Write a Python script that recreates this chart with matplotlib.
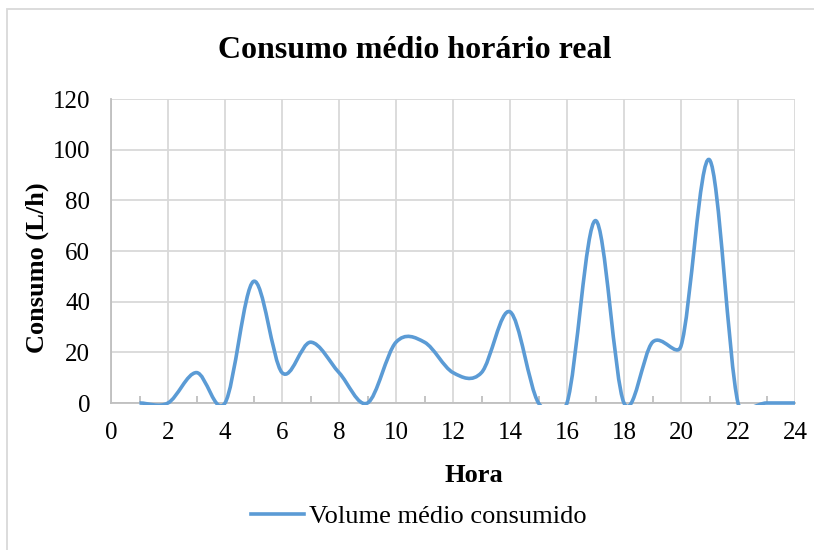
import numpy as np
import matplotlib
matplotlib.use('Agg')
import matplotlib.pyplot as plt
from matplotlib.path import Path
from matplotlib.patches import PathPatch, Rectangle
from matplotlib.lines import Line2D

hours = [1, 2, 3, 4, 5, 6, 7, 8, 9, 10, 11, 12, 13, 14, 15, 16, 17, 18, 19, 20, 21, 22, 23, 24]
consumo = [0, 0, 12, 0, 48, 12, 24, 12, 0, 24, 24, 12, 12, 36, 0, 0, 72, 0, 24, 22.5, 96, 0, 0, 0]

line_color = '#5B9BD5'
grid_color = '#D9D9D9'
axis_color = '#BFBFBF'

plt.rcParams['font.family'] = ['Liberation Serif', 'DejaVu Serif']


def arm(p_a, p_b, d_seg, same_x):  # control arm factor, excel style
    d = np.hypot(*(p_b - p_a))
    if d / 6 < d_seg / 2:
        return 1 / 3 if same_x else 1 / 6
    return 0.5 * d_seg / d


def smooth_path(ax, xs, ys):  # excel-like smoothed line, worked out in screen space
    tr = ax.transData
    pts = tr.transform(np.column_stack([xs, ys]).astype(float))
    n = len(pts)
    verts = [pts[0]]
    codes = [Path.MOVETO]
    for i in range(n - 1):
        p0 = pts[i - 1] if i > 0 else pts[i]
        p1, p2 = pts[i], pts[i + 1]
        p3 = pts[i + 2] if i + 2 < n else pts[i + 1]
        d12 = np.hypot(*(p2 - p1))
        f = arm(p0, p2, d12, p0[0] == p1[0])
        g = arm(p1, p3, d12, p2[0] == p3[0])
        c1 = p1 + f * (p2 - p0)
        c2 = p2 - g * (p3 - p1)
        verts += [c1, c2, p2]
        codes += [Path.CURVE4] * 3
    verts = tr.inverted().transform(np.array(verts))
    return Path(verts, codes)


W, H = 814, 550
fig = plt.figure(figsize=(W / 100, H / 100), dpi=100)
ax = fig.add_axes([111 / W, 1 - 403 / H, (795 - 111) / W, (403 - 99) / H])

ax.set_xlim(0, 24)
ax.set_ylim(0, 120)
ax.set_xticks(range(0, 25, 2))
ax.set_yticks(range(0, 121, 20))
ax.set_xticks(range(1, 24, 2), minor=True)
ax.grid(True, color=grid_color, lw=1.3, zorder=0)
ax.set_axisbelow(True)
for s in ['top', 'right']:
    ax.spines[s].set_visible(False)
for s in ['left', 'bottom']:
    ax.spines[s].set_color(axis_color)
    ax.spines[s].set_linewidth(1.3)
ax.tick_params(axis='both', which='major', length=0, labelsize=18, colors='black')
ax.tick_params(axis='x', which='major', pad=14)
ax.tick_params(axis='y', which='major', pad=15)
ax.tick_params(axis='x', which='minor', direction='in', length=5, width=1.3, color=axis_color)

patch = PathPatch(smooth_path(ax, hours, consumo), fill=False, edgecolor=line_color,
                  lw=2.6, capstyle='butt', joinstyle='round', transform=ax.transData, zorder=3)
ax.add_patch(patch)
clip = Rectangle((0, -0.008), 1, 1.016, transform=ax.transAxes)
patch.set_clip_path(clip)

fig.text(415 / W, 1 - 51 / H, 'Consumo médio horário real', ha='center', va='center',
         fontsize=23, fontweight='bold')
fig.text(37 / W, 1 - 268 / H, 'Consumo (L/h)', ha='center', va='center', rotation=90,
         fontsize=19, fontweight='bold')
fig.text(474 / W, 1 - 476 / H, 'Hora', ha='center', va='center', fontsize=19, fontweight='bold')

handle = Line2D([], [], color=line_color, lw=2.6)
fig.legend([handle], ['Volume médio consumido'], loc='center', bbox_to_anchor=(419 / W, 1 - 516 / H),
           frameon=False, fontsize=19, handlelength=2.0, handletextpad=0.2)

fig.patches.append(Rectangle((7 / W, -0.1), 1.2, (1 - 9 / H) + 0.1, transform=fig.transFigure,
                             fill=False, edgecolor=grid_color, lw=1.3))

fig.savefig('out.png', dpi=100)
